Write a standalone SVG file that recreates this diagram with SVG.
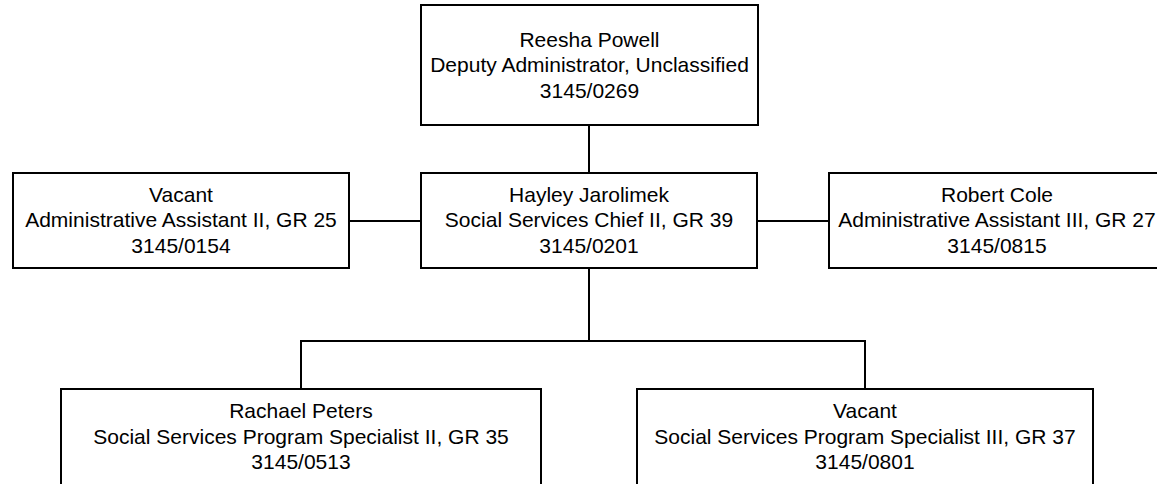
<svg xmlns="http://www.w3.org/2000/svg" width="1157" height="484" viewBox="0 0 1157 484">
<style>
.box{fill:#fff;stroke:#000;stroke-width:2}
.ln{fill:none;stroke:#000;stroke-width:2}
text{font-family:"Liberation Sans",Arial,sans-serif;font-size:21px;fill:#000;text-anchor:middle}
</style>
<rect width="1157" height="484" fill="#fff"/>
<g id="connectors">
<line class="ln" x1="589" y1="125" x2="589" y2="173"/>
<line class="ln" x1="349" y1="221" x2="421" y2="221"/>
<line class="ln" x1="757" y1="221" x2="829" y2="221"/>
<polyline class="ln" points="589,268 589,341"/>
<polyline class="ln" points="301,389 301,341 865,341 865,389"/>
</g>
<g id="n-powell">
<rect class="box" x="421" y="5" width="337" height="120"/>
<text x="589.5" y="46.5">Reesha Powell</text>
<text x="589.5" y="72">Deputy Administrator, Unclassified</text>
<text x="589.5" y="97.5">3145/0269</text>
</g>
<g id="n-vacant-aa2">
<rect class="box" x="13" y="173" width="336" height="95"/>
<text x="181" y="202">Vacant</text>
<text x="181" y="227">Administrative Assistant II, GR 25</text>
<text x="181" y="252.5">3145/0154</text>
</g>
<g id="n-jarolimek">
<rect class="box" x="421" y="173" width="336" height="95"/>
<text x="589" y="202">Hayley Jarolimek</text>
<text x="589" y="227">Social Services Chief II, GR 39</text>
<text x="589" y="252.5">3145/0201</text>
</g>
<g id="n-cole">
<rect class="box" x="829" y="173" width="336" height="95"/>
<text x="997" y="202">Robert Cole</text>
<text x="997" y="227">Administrative Assistant III, GR 27</text>
<text x="997" y="252.5">3145/0815</text>
</g>
<g id="n-peters">
<rect class="box" x="61" y="389" width="480" height="100"/>
<text x="301" y="418">Rachael Peters</text>
<text x="301" y="443.5">Social Services Program Specialist II, GR 35</text>
<text x="301" y="469">3145/0513</text>
</g>
<g id="n-vacant-ssps3">
<rect class="box" x="637" y="389" width="456" height="100"/>
<text x="865" y="418">Vacant</text>
<text x="865" y="443.5">Social Services Program Specialist III, GR 37</text>
<text x="865" y="469">3145/0801</text>
</g>
</svg>
